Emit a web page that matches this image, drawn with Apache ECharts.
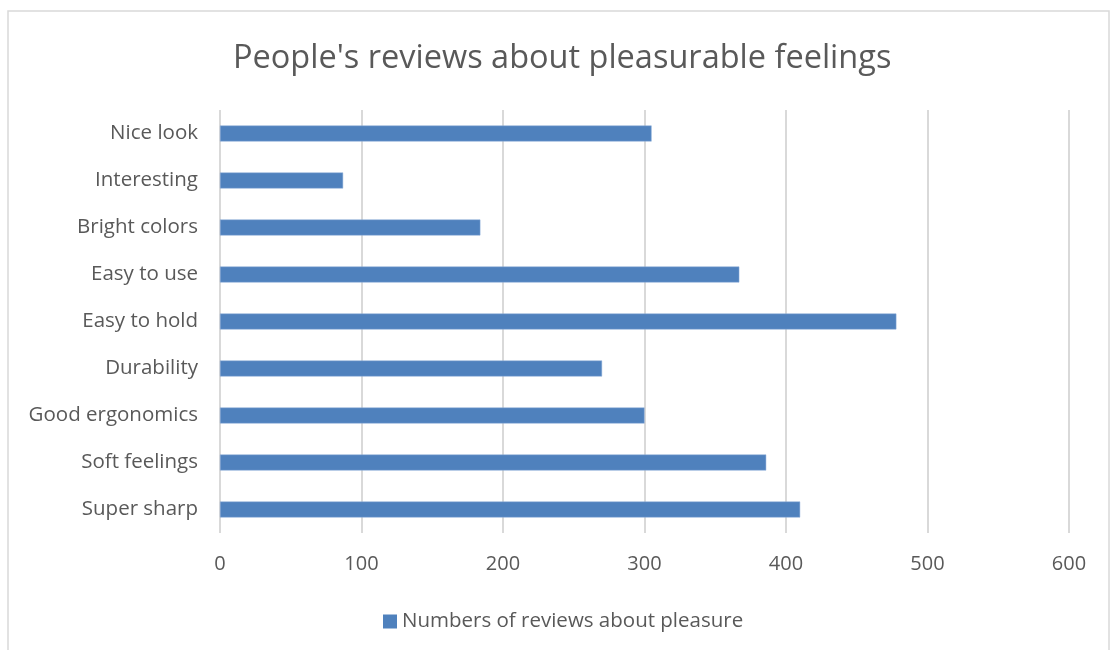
<!DOCTYPE html>
<html>
<head>
<meta charset="utf-8">
<script src="https://cdn.jsdelivr.net/npm/echarts@6/dist/echarts.min.js"></script>
<style>html,body{margin:0;padding:0;background:#fff;}#main{width:1110px;height:650px;}</style>
</head>
<body>
<div id="main"></div>
<script>
const categories = ["Nice look","Interesting","Bright colors","Easy to use","Easy to hold","Durability","Good ergonomics","Soft feelings","Super sharp"];
const values = [305, 87, 184, 367, 478, 270, 300, 386, 410];
const seriesName = "Numbers of reviews about pleasure";
const titleText = "People's reviews about pleasurable feelings";

const chart = echarts.init(document.getElementById('main'), null, {renderer:'canvas'});
const font = "Open Sans";
chart.setOption({
  animation: false,
  backgroundColor: '#fff',
  graphic: [{
    type: 'rect', shape: {x: 8, y: 11, width: 1101, height: 645},
    style: {fill: 'none', stroke: '#d9d9d9', lineWidth: 1.5}, silent: true
  }],
  title: {
    text: titleText, left: 228, top: 37,
    textStyle: {fontFamily: font, fontSize: 32.5, fontWeight: 'normal', color: '#595959'}
  },
  legend: {
    data: [seriesName], top: 606, left: 378,
    itemWidth: 14, itemHeight: 14, icon: 'rect', itemGap: 6,
    itemStyle: {borderWidth: 0},
    textStyle: {fontFamily: font, fontSize: 20.5, color: '#595959'}
  },
  grid: {left: 220, right: 41, top: 110, bottom: 117, containLabel: false},
  xAxis: {
    type: 'value', min: 0, max: 600, interval: 100,
    axisLine: {show: false}, axisTick: {show: false},
    splitLine: {show: true, lineStyle: {color: '#d9d9d9', width: 2}},
    axisLabel: {fontFamily: font, fontSize: 20, color: '#595959', margin: 21}
  },
  yAxis: {
    type: 'category', data: categories, inverse: true,
    axisLine: {show: false}, axisTick: {show: false},
    axisLabel: {fontFamily: font, fontSize: 20.5, color: '#595959', margin: 22}
  },
  series: [{
    name: seriesName, type: 'bar', data: values, barWidth: 16,
    itemStyle: {color: '#4f81bd', borderColor: '#8eaedb', borderWidth: 0.5}
  }]
});
</script>
</body>
</html>
